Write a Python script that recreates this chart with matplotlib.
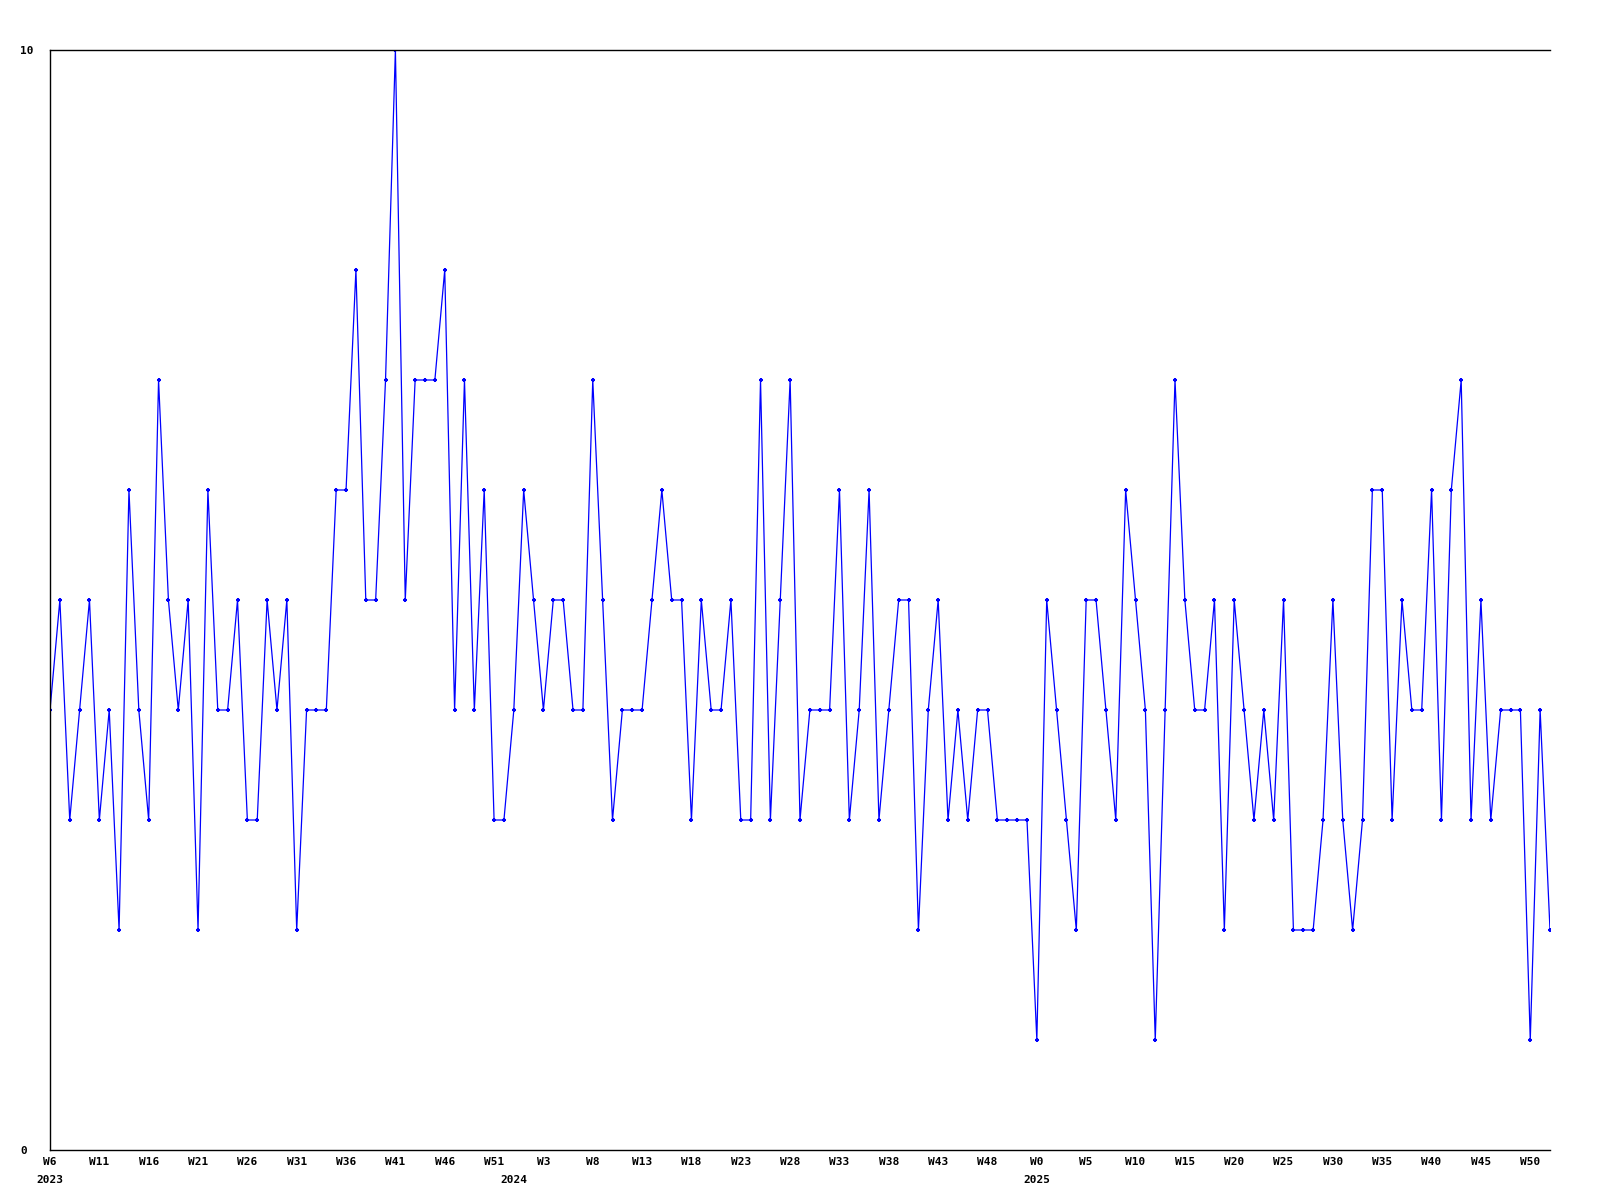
import numpy as np
import matplotlib
matplotlib.use("Agg")
import matplotlib.pyplot as plt

# weekly counts
values_2023 = [4, 5, 3, 4, 5, 3, 4, 2, 6, 4, 3, 7, 5, 4, 5, 2, 6, 4, 4, 5,
               3, 3, 5, 4, 5, 2, 4, 4, 4, 6, 6, 8, 5, 5, 7, 10, 5, 7, 7, 7,
               8, 4, 7, 4, 6, 3, 3]                      # W6 .. W52
values_2024 = [4, 6, 5, 4, 5, 5, 4, 4, 7, 5, 3, 4, 4, 4, 5, 6, 5, 5, 3, 5,
               4, 4, 5, 3, 3, 7, 3, 5, 7, 3, 4, 4, 4, 6, 3, 4, 6, 3, 4, 5,
               5, 2, 4, 5, 3, 4, 3, 4, 4, 3, 3, 3, 3]    # W0 .. W52
values_2025 = [1, 5, 4, 3, 2, 5, 5, 4, 3, 6, 5, 4, 1, 4, 7, 5, 4, 4, 5, 2,
               5, 4, 3, 4, 3, 5, 2, 2, 2, 3, 5, 3, 2, 3, 6, 6, 3, 5, 4, 4,
               6, 3, 6, 7, 3, 5, 3, 4, 4, 4, 1, 4, 2]    # W0 .. W52

weeks_2023 = list(range(6, 53))
weeks_2024 = list(range(0, 53))
weeks_2025 = list(range(0, 53))

values = values_2023 + values_2024 + values_2025
week_labels = [f"W{w}" for w in weeks_2023 + weeks_2024 + weeks_2025]
year_starts = [0, len(values_2023), len(values_2023) + len(values_2024)]
year_labels = ["2023", "2024", "2025"]

x = np.arange(len(values))

plt.rcParams['font.family'] = ['DejaVu Sans Mono']
plt.rcParams['font.weight'] = 'bold'

fig = plt.figure(figsize=(16, 12), dpi=100)
ax = fig.add_axes([50 / 1600, 50 / 1200, 1500 / 1600, 1100 / 1200])

ax.plot(x, values, color="#0000ff", linewidth=0.9,
        marker="+", markersize=3.5, markeredgewidth=1.5)

ax.set_xlim(0, len(values) - 1)
ax.set_ylim(0, 10)

ax.spines["right"].set_visible(False)
for side in ["left", "top", "bottom"]:
    ax.spines[side].set_linewidth(1.0)
    ax.spines[side].set_color("black")

# week labels every 5 points, year labels under the first week of each year
ax.xaxis.remove_overlapping_locs = False
ax.set_xticks(x[::5])
ax.set_xticklabels(week_labels[::5], fontsize=8, fontweight="bold")
ax.set_xticks(year_starts, minor=True)
ax.set_xticklabels(year_labels, minor=True, fontsize=8, fontweight="bold")
ax.tick_params(axis="x", which="major", length=0, pad=5)
ax.tick_params(axis="x", which="minor", length=0, pad=18)

ax.set_yticks([0, 10])
ax.set_yticklabels(["0", "10"], fontsize=8, fontweight="bold")
ax.tick_params(axis="y", length=0, pad=21.6)
for lbl in ax.get_yticklabels():
    lbl.set_horizontalalignment("left")

fig.savefig("out.png", dpi=100)
